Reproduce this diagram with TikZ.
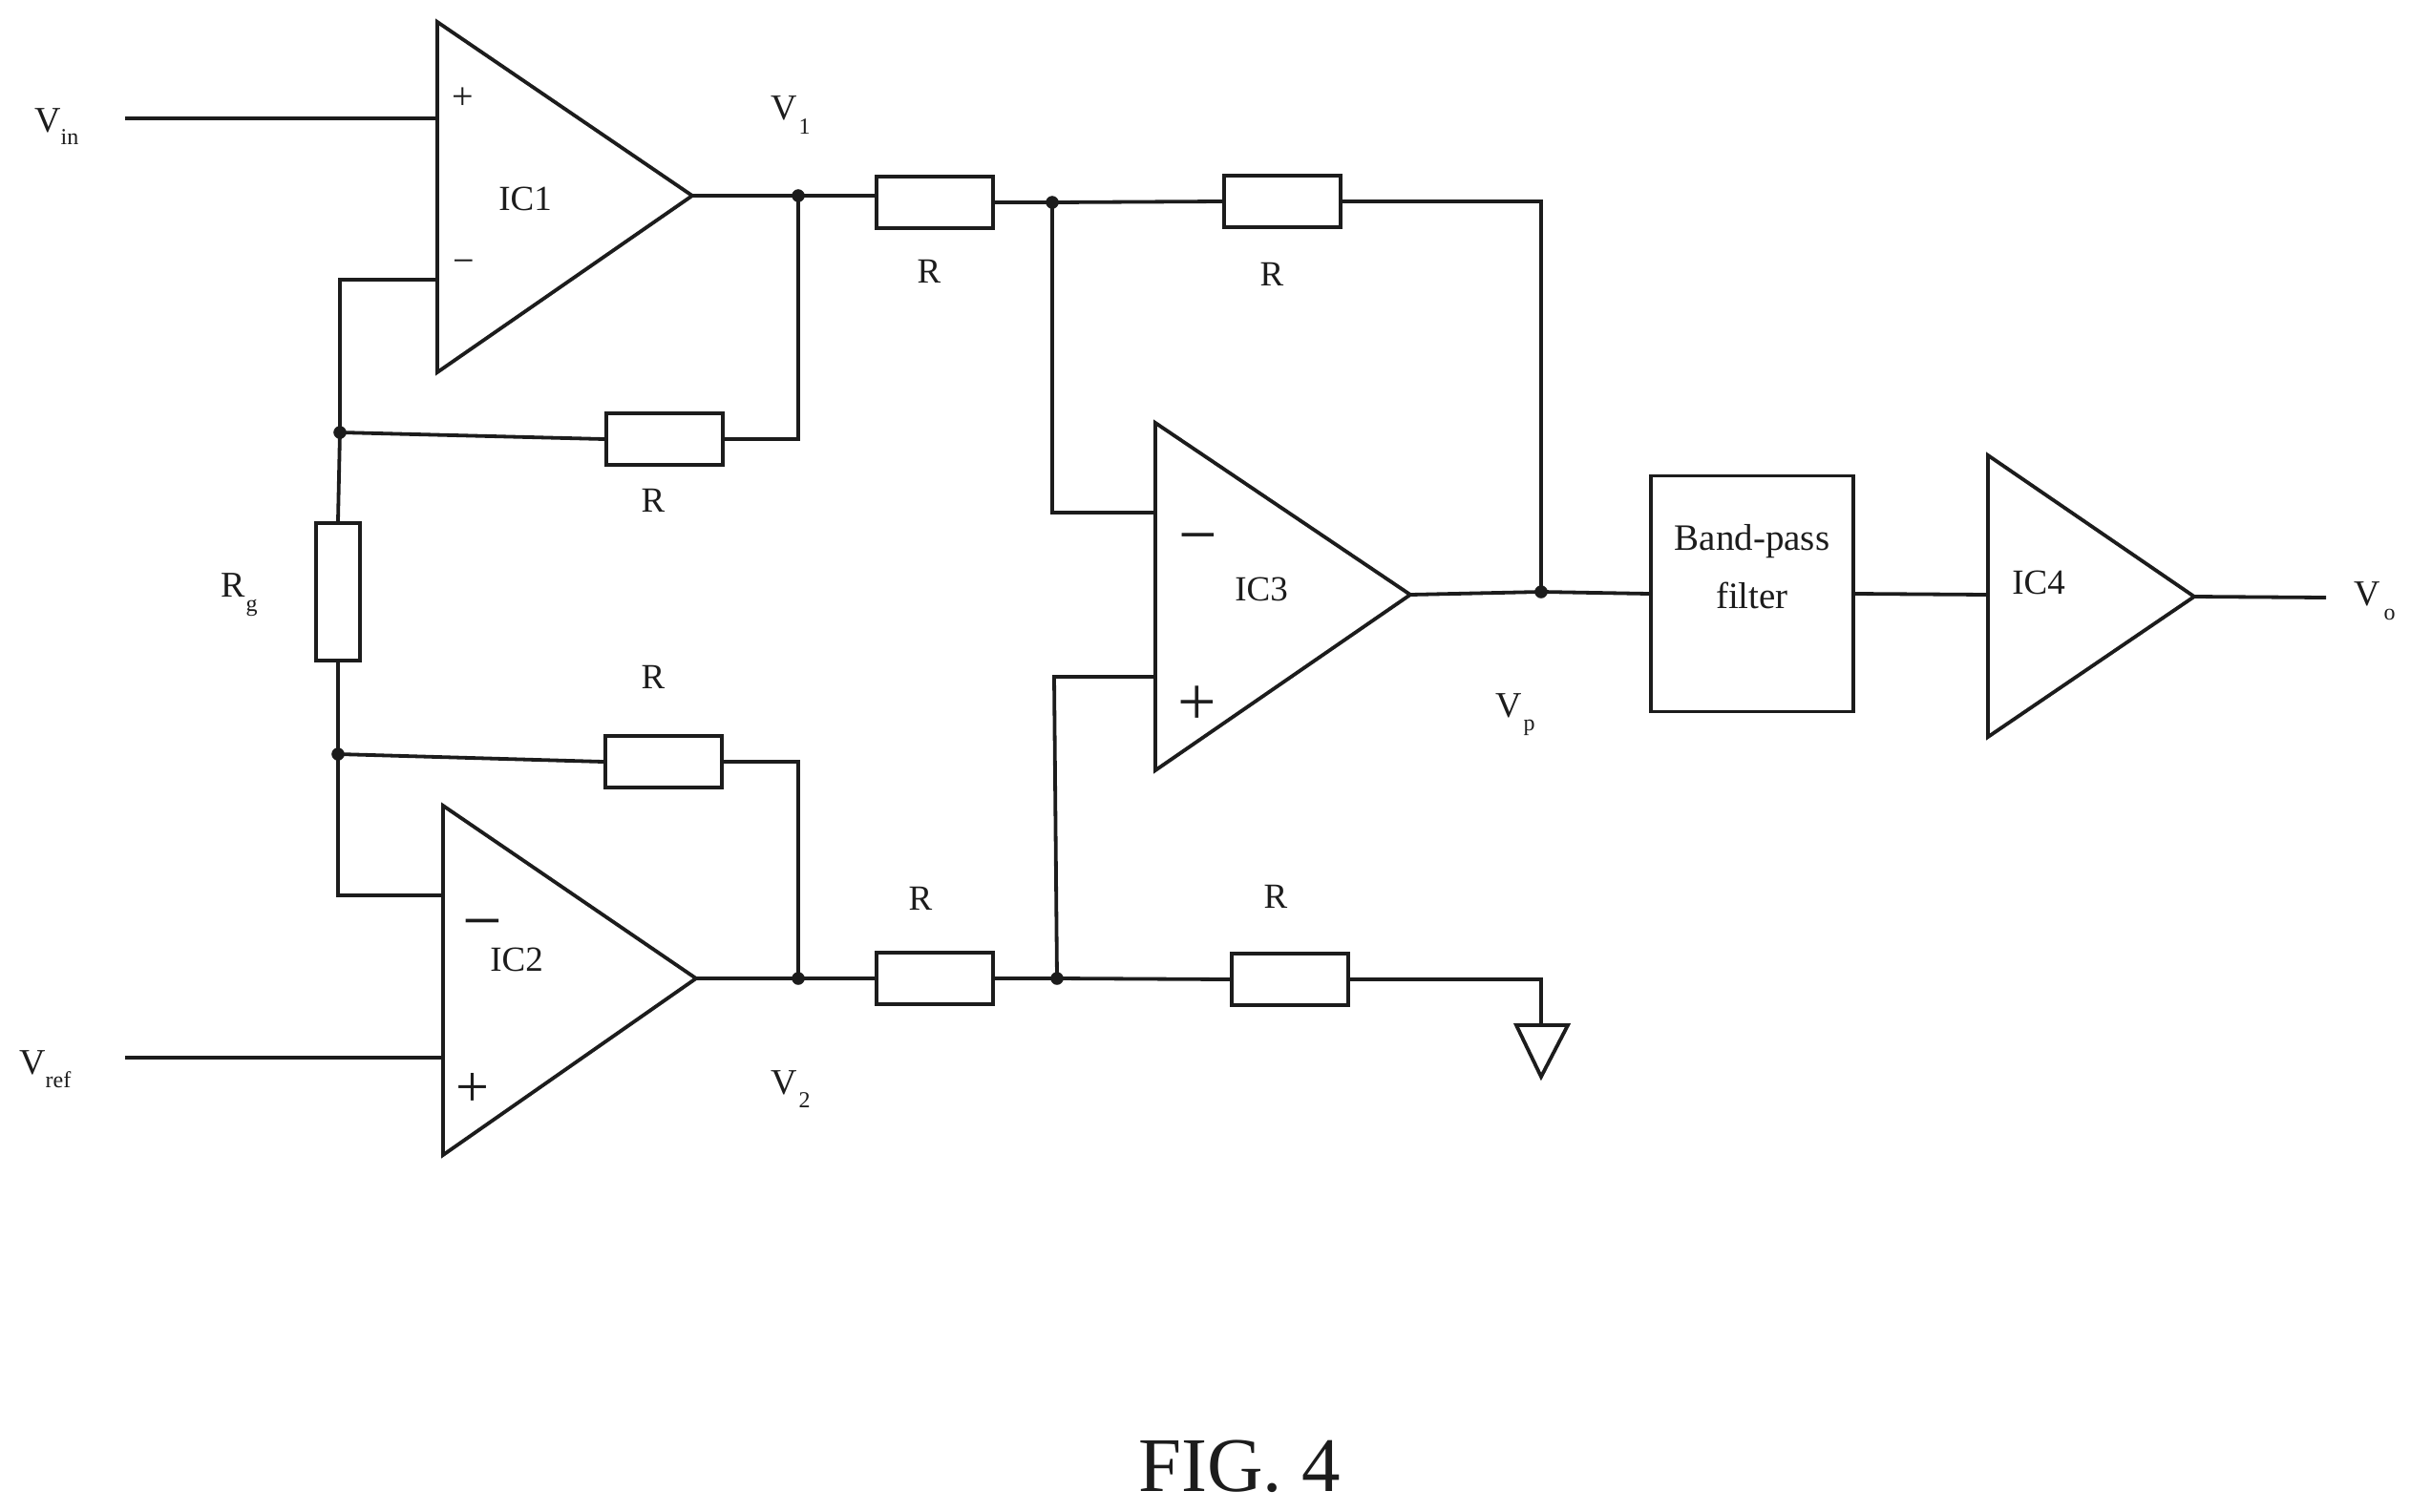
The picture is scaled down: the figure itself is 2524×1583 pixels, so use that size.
\documentclass[tikz,border=0pt]{standalone}
\usepackage{fontspec}
\setmainfont{Liberation Serif}
\definecolor{ink}{HTML}{1C1C1C}
\newcommand{\fsz}[1]{\fontsize{#1}{#1}\selectfont}
\newcommand{\subbed}[4]{#1\kern#3pt\lower#4pt\hbox{\fsz{24}#2}}
\tikzset{
  wire/.style={draw=ink,line width=3.8pt,line join=miter},
  rbox/.style={rectangle,draw=ink,line width=4.2pt,inner sep=0pt,fill=white},
  jdot/.style={circle,fill=ink,draw=ink,inner sep=0pt,minimum size=13pt},
  opamp/.style={draw=ink,line width=3.8pt,line join=miter,fill=white},
  lab/.style={inner sep=0pt,text=ink,font=\fsz{37}},
  vlab/.style={inner sep=0pt,text=ink,font=\fsz{38},anchor=base west},
  sgn/.style={inner sep=0pt,text=ink,anchor=center},
}
\begin{document}
\begin{tikzpicture}[x=1pt,y=-1pt]
\useasboundingbox (0,0) rectangle (2524,1583);

% op-amp pins
\coordinate (vinEnd) at (131,124);
\coordinate (vrefEnd) at (131,1108);
\coordinate (ic1T) at (458,23); \coordinate (ic1B) at (458,390); \coordinate (ic1O) at (725,205);
\coordinate (ic1P) at (458,124); \coordinate (ic1M) at (458,293);
\coordinate (ic2T) at (464,844); \coordinate (ic2B) at (464,1210); \coordinate (ic2O) at (729,1025);
\coordinate (ic2M) at (464,938); \coordinate (ic2P) at (464,1108);
\coordinate (ic3T) at (1210,443); \coordinate (ic3B) at (1210,807); \coordinate (ic3O) at (1477,623);
\coordinate (ic3M) at (1210,537); \coordinate (ic3P) at (1210,709);
\coordinate (ic4T) at (2082,477); \coordinate (ic4B) at (2082,772); \coordinate (ic4O) at (2298,625);
\coordinate (ic4I) at (2082,623);
\coordinate (voEnd) at (2436,626);

% junctions
\node[jdot] (j1) at (836,205) {};
\node[jdot] (j2) at (1102,212) {};
\node[jdot] (j3) at (356,453) {};
\node[jdot] (j4) at (354,790) {};
\node[jdot] (j5) at (836,1025) {};
\node[jdot] (j6) at (1107,1025) {};
\node[jdot] (j7) at (1614,620) {};

% resistors and filter
\node[rbox,minimum width=122pt,minimum height=54pt] (r1) at (979,212) {};
\node[rbox,minimum width=122pt,minimum height=54pt] (r2) at (1343,211) {};
\node[rbox,minimum width=122pt,minimum height=54pt] (r3) at (696,460) {};
\node[rbox,minimum width=46pt,minimum height=144pt] (rg) at (354,620) {};
\node[rbox,minimum width=122pt,minimum height=54pt] (r4) at (695,798) {};
\node[rbox,minimum width=122pt,minimum height=54pt] (r5) at (979,1025) {};
\node[rbox,minimum width=122pt,minimum height=54pt] (r6) at (1351,1026) {};
\node[rectangle,draw=ink,line width=3.8pt,inner sep=0pt,minimum width=212pt,minimum height=247pt] (bpf) at (1835,622) {};

% corners and ground
\coordinate (c1) at (356,293);
\coordinate (c2) at (836,460);
\coordinate (c3) at (354,938);
\coordinate (c4) at (836,798);
\coordinate (c5) at (1102,537);
\coordinate (c6) at (1614,211);
\coordinate (c7) at (1104,709);
\coordinate (c8) at (1614,1026);
\coordinate (gndT) at (1614,1074);
\coordinate (gndL) at (1588,1074);
\coordinate (gndR) at (1642,1074);
\coordinate (gndB) at (1614,1128);

% wires
\draw[wire] (vinEnd) -- (ic1P);
\draw[wire] (vrefEnd) -- (ic2P);
\draw[wire] (ic1O) -- (j1.center) -- (j1 -| r1.west);
\draw[wire] (r1.east) -- (j2.center) -- (r2.west);
\draw[wire] (r2.east) -- (c6) -- (j7.center);
\draw[wire] (j2.center) -- (c5) -- (ic3M);
\draw[wire] (ic1M) -- (c1) -- (j3.center) -- (rg.north);
\draw[wire] (j3.center) -- (r3.west);
\draw[wire] (r3.east) -- (c2) -- (j1.center);
\draw[wire] (rg.south) -- (j4.center) -- (c3) -- (ic2M);
\draw[wire] (j4.center) -- (r4.west);
\draw[wire] (r4.east) -- (c4) -- (j5.center);
\draw[wire] (ic2O) -- (j5.center) -- (r5.west);
\draw[wire] (r5.east) -- (j6.center) -- (r6.west);
\draw[wire] (j6.center) -- (c7) -- (ic3P);
\draw[wire] (r6.east) -- (c8) -- (gndT);
\draw[wire] (ic3O) -- (j7.center) -- (bpf.west);
\draw[wire] (bpf.east) -- (ic4I);
\draw[wire] (ic4O) -- (voEnd);

% op-amps, ground
\draw[opamp] (ic1T) -- (ic1O) -- (ic1B) -- cycle;
\draw[opamp] (ic2T) -- (ic2O) -- (ic2B) -- cycle;
\draw[opamp] (ic3T) -- (ic3O) -- (ic3B) -- cycle;
\draw[opamp] (ic4T) -- (ic4O) -- (ic4B) -- cycle;
\draw[opamp] (gndL) -- (gndR) -- (gndB) -- cycle;

% labels
\node[lab] (tic1) at (550,208) {IC1};
\node[lab] (tic2) at (541,1005) {IC2};
\node[lab] (tic3) at (1321,617) {IC3};
\node[lab] (tic4) at (2135,610) {IC4};
\node[lab] (tr1) at (973,284) {R};
\node[lab] (tr2) at (1332,287) {R};
\node[lab] (tr3) at (684,524) {R};
\node[lab] (tr4) at (684,709) {R};
\node[lab] (tr5) at (964,941) {R};
\node[lab] (tr6) at (1336,939) {R};
\node[lab,font=\fsz{39},align=center] (tb1) at (1835,567) {Band-pass};
\node[lab,font=\fsz{39},align=center] (tb2) at (1835,624) {filter};
\node[vlab] (tvin) at (36,138) {\subbed{V}{in}{0}{13}};
\node[vlab] (tvref) at (20,1125) {\subbed{V}{ref}{0}{14}};
\node[vlab] (tv1) at (807,125) {\subbed{V}{1}{2}{15}};
\node[vlab] (tv2) at (807,1146) {\subbed{V}{2}{2}{14}};
\node[vlab] (trg) at (231,625) {\subbed{R}{g}{1}{15}};
\node[vlab] (tvp) at (1566,751) {\subbed{V}{p}{2}{14}};
\node[vlab] (tvo) at (2465,634) {\subbed{V}{o}{4}{15}};
\node[lab,font=\fsz{81}] (fig) at (1298,1536) {FIG. 4};

% polarity signs
\node[sgn,font=\fsz{40}] (s1p) at (485,103) {+};
\node[sgn,font=\fsz{40}] (s1m) at (486,279) {−};
\node[sgn,font=\fsz{74}] (s2m) at (505,976) {−};
\node[sgn,font=\fsz{62}] (s2p) at (495,1142) {+};
\node[sgn,font=\fsz{72}] (s3m) at (1255,572) {−};
\node[sgn,font=\fsz{72}] (s3p) at (1254,739) {+};
\end{tikzpicture}
\end{document}
